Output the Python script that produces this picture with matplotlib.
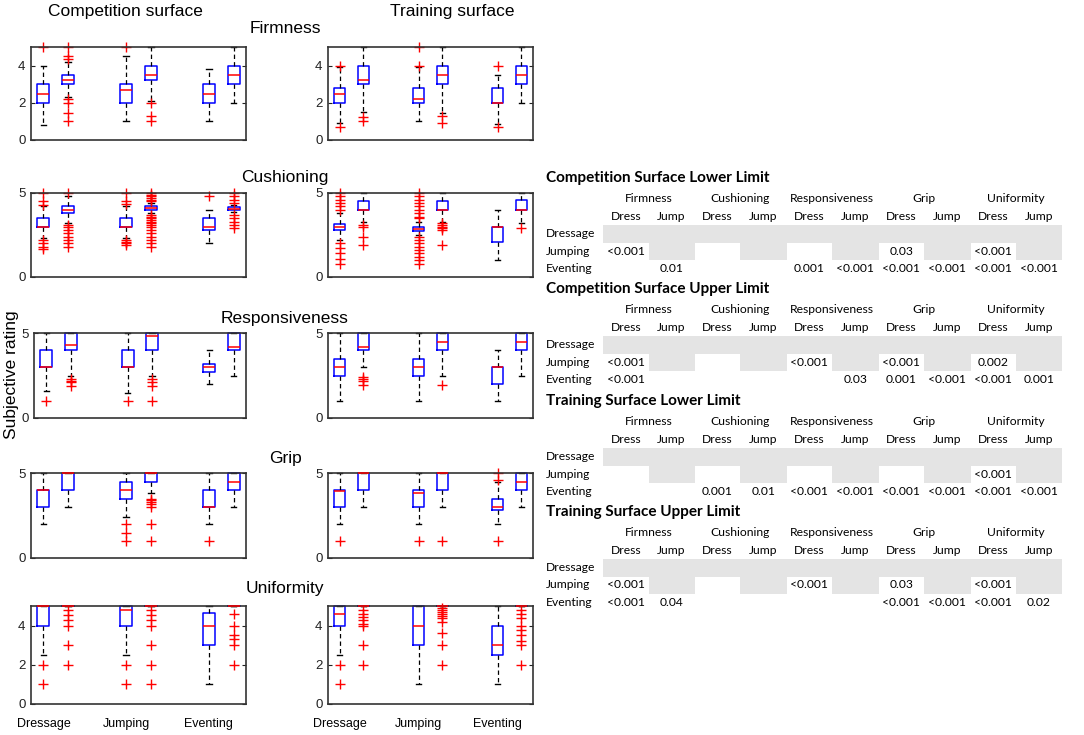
import numpy as np
import matplotlib
matplotlib.use('Agg')
import matplotlib.pyplot as plt
from matplotlib.patches import Rectangle

W, H = 1084, 735

# ── box data: (whisker low, q1, median, q3, whisker high, [outliers]) ───────
# order: Dressage lower, Dressage upper, Jumping lower, Jumping upper,
#        Eventing lower, Eventing upper
FIRMNESS_COMP = [
    (0.8, 2.0, 2.5, 3.0, 4.0, [5.0]),
    (2.3, 3.0, 3.2, 3.5, 4.2, [5.0, 4.5, 4.35, 2.2, 2.0, 1.45, 1.0]),
    (1.0, 2.0, 2.7, 3.0, 4.5, [5.0]),
    (2.1, 3.2, 3.5, 4.0, 5.0, [2.0, 1.3, 1.0]),
    (1.0, 2.0, 2.5, 3.0, 3.8, []),
    (2.0, 3.0, 3.5, 4.0, 5.0, []),
]
FIRMNESS_TRAIN = [
    (0.9, 2.0, 2.5, 2.8, 3.9, [4.0, 0.7]),
    (1.5, 3.0, 3.2, 4.0, 5.0, [1.25, 1.0]),
    (1.0, 2.0, 2.2, 2.8, 3.9, [5.0, 4.0]),
    (1.45, 3.0, 3.5, 4.0, 5.0, [1.3, 0.9]),
    (0.85, 2.0, 2.0, 2.8, 3.5, [4.0, 0.7]),
    (2.0, 3.0, 3.5, 4.0, 5.0, []),
]
CUSHIONING_COMP = [
    (2.3, 3.0, 3.0, 3.5, 4.2, [5.0, 4.5, 4.3, 2.2, 2.0, 1.8, 1.65]),
    (3.2, 3.8, 4.0, 4.2, 4.8, [5.0, 3.1, 3.0, 2.8, 2.6, 2.4, 2.2, 2.0, 1.8]),
    (2.3, 3.0, 3.0, 3.5, 4.2, [5.0, 4.5, 4.35, 2.2, 2.1, 2.0, 1.9]),
    (3.8, 4.0, 4.1, 4.25, 4.4, [5.0, 4.9, 4.8, 4.7, 4.6, 4.5, 3.7, 3.6, 3.5,
                                3.4, 3.3, 3.2, 3.1, 3.0, 2.8, 2.6, 2.4, 2.2,
                                2.0, 1.8]),
    (2.0, 2.8, 3.0, 3.5, 4.0, [4.8]),
    (3.85, 4.0, 4.05, 4.15, 4.3, [5.0, 4.8, 4.6, 4.4, 3.7, 3.5, 3.3, 3.1, 2.9]),
]
CUSHIONING_TRAIN = [
    (2.2, 2.8, 2.95, 3.15, 3.8, [5.0, 4.8, 4.6, 4.4, 4.2, 4.0, 2.0, 1.7, 1.4,
                                 1.1, 0.8]),
    (3.3, 4.0, 4.0, 4.5, 5.0, [3.1, 3.0, 2.4, 1.9]),
    (2.5, 2.75, 2.85, 2.95, 3.3, [5.0, 4.8, 4.6, 4.4, 4.2, 4.0, 3.8, 3.6, 3.5,
                                  2.4, 2.2, 2.0, 1.8, 1.6, 1.4, 1.2, 1.0, 0.8]),
    (3.3, 4.0, 4.0, 4.5, 5.0, [3.2, 3.1, 3.0, 2.9, 2.8, 1.9]),
    (1.0, 2.1, 3.0, 3.0, 4.0, []),
    (3.2, 4.0, 4.0, 4.6, 5.0, [2.9]),
]
RESPONSIVENESS_COMP = [
    (1.6, 3.0, 3.0, 4.0, 5.0, [1.0]),
    (2.5, 4.0, 4.3, 5.0, 5.0, [2.3, 2.2, 2.1, 1.9]),
    (1.45, 3.0, 3.0, 4.0, 5.0, [1.0]),
    (2.5, 4.0, 4.8, 5.0, 5.0, [2.3, 2.1, 1.9, 1.0]),
    (2.0, 2.7, 3.0, 3.2, 4.0, []),
    (2.5, 4.0, 4.2, 5.0, 5.0, []),
]
RESPONSIVENESS_TRAIN = [
    (1.0, 2.5, 3.0, 3.5, 5.0, []),
    (3.0, 4.0, 4.2, 5.0, 5.0, [2.4, 2.3, 2.2, 1.95]),
    (1.0, 2.5, 3.0, 3.5, 5.0, []),
    (2.5, 4.0, 4.5, 5.0, 5.0, [1.95]),
    (1.0, 2.0, 3.0, 3.0, 4.0, []),
    (2.5, 4.0, 4.5, 5.0, 5.0, []),
]
GRIP_COMP = [
    (2.0, 3.0, 4.0, 4.0, 5.0, []),
    (3.0, 4.0, 5.0, 5.0, 5.0, []),
    (2.4, 3.5, 4.0, 4.5, 5.0, [2.0, 1.5, 1.0]),
    (3.8, 4.5, 5.0, 5.0, 5.0, [3.5, 3.4, 3.3, 3.2, 3.0, 2.0, 1.0]),
    (2.0, 3.0, 3.0, 4.0, 5.0, [1.0]),
    (3.0, 4.0, 4.5, 5.0, 5.0, []),
]
GRIP_TRAIN = [
    (2.0, 3.0, 3.95, 4.0, 5.0, [1.0]),
    (3.0, 4.0, 5.0, 5.0, 5.0, []),
    (2.0, 3.0, 3.8, 4.0, 5.0, [1.0]),
    (3.0, 4.0, 5.0, 5.0, 5.0, [1.0]),
    (2.0, 2.8, 3.0, 3.5, 4.5, [5.0, 4.6, 1.0]),
    (3.0, 4.0, 4.5, 5.0, 5.0, []),
]
UNIFORMITY_COMP = [
    (2.5, 4.0, 5.0, 5.0, 5.0, [2.0, 1.0]),
    (5.0, 5.0, 5.0, 5.0, 5.0, [4.8, 4.55, 4.3, 4.0, 3.0, 2.0]),
    (2.5, 4.0, 4.8, 5.0, 5.0, [2.0, 1.0]),
    (5.0, 5.0, 5.0, 5.0, 5.0, [4.8, 4.55, 4.3, 4.0, 3.0, 2.0, 1.0]),
    (1.0, 3.0, 4.0, 4.65, 5.0, []),
    (5.0, 5.0, 5.0, 5.0, 5.0, [4.6, 4.0, 3.5, 3.3, 3.0, 2.0]),
]
UNIFORMITY_TRAIN = [
    (2.5, 4.0, 4.6, 5.0, 5.0, [2.0, 1.0]),
    (5.0, 5.0, 5.0, 5.0, 5.0, [4.8, 4.6, 4.45, 4.3, 4.1, 4.0, 3.0, 2.0]),
    (1.0, 3.0, 4.0, 5.0, 5.0, []),
    (5.0, 5.0, 5.0, 5.0, 5.0, [4.9, 4.8, 4.7, 4.6, 4.5, 4.4, 4.2, 3.6, 3.0,
                               2.0]),
    (1.0, 2.5, 3.0, 4.0, 5.0, []),
    (5.0, 5.0, 5.0, 5.0, 5.0, [4.8, 4.6, 4.4, 4.0, 3.8, 3.5, 3.2, 3.0, 2.0]),
]

PROPERTIES = ['Firmness', 'Cushioning', 'Responsiveness', 'Grip', 'Uniformity']
DISCIPLINES = ['Dressage', 'Jumping', 'Eventing']
PANELS = [(FIRMNESS_COMP, FIRMNESS_TRAIN),
          (CUSHIONING_COMP, CUSHIONING_TRAIN),
          (RESPONSIVENESS_COMP, RESPONSIVENESS_TRAIN),
          (GRIP_COMP, GRIP_TRAIN),
          (UNIFORMITY_COMP, UNIFORMITY_TRAIN)]
YTICKS = [[0, 2, 4], [0, 5], [0, 5], [0, 5], [0, 2, 4]]

# ── p-value tables ──────────────────────────────────────────────────────────
TABLE_TITLES = ['Competition Surface Lower Limit',
                'Competition Surface Upper Limit',
                'Training Surface Lower Limit',
                'Training Surface Upper Limit']
SUB_COLS = ['Dress', 'Jump']
CSLL_JUMPING = ['<0.001', '', '', '', '', '', '0.03', '', '<0.001', '']
CSLL_EVENTING = ['', '0.01', '', '', '0.001', '<0.001', '<0.001', '<0.001',
                 '<0.001', '<0.001']
CSUL_JUMPING = ['<0.001', '', '', '', '<0.001', '', '<0.001', '', '0.002', '']
CSUL_EVENTING = ['<0.001', '', '', '', '', '0.03', '0.001', '<0.001',
                 '<0.001', '0.001']
TSLL_JUMPING = ['', '', '', '', '', '', '', '', '<0.001', '']
TSLL_EVENTING = ['', '', '0.001', '0.01', '<0.001', '<0.001', '<0.001',
                 '<0.001', '<0.001', '<0.001']
TSUL_JUMPING = ['<0.001', '', '', '', '<0.001', '', '0.03', '', '<0.001', '']
TSUL_EVENTING = ['<0.001', '0.04', '', '', '', '', '<0.001', '<0.001',
                 '<0.001', '0.02']
TABLE_ROWS = [(CSLL_JUMPING, CSLL_EVENTING), (CSUL_JUMPING, CSUL_EVENTING),
              (TSLL_JUMPING, TSLL_EVENTING), (TSUL_JUMPING, TSUL_EVENTING)]
SHADE_DRESSAGE = [1, 1, 1, 1, 1, 1, 1, 1, 1, 1]
SHADE_JUMPING = [0, 1, 0, 1, 0, 1, 0, 1, 0, 1]

# ── layout (pixels) ─────────────────────────────────────────────────────────
POS = [1, 2, 4.33, 5.33, 7.67, 8.67]
ROW_TB = [(47, 140), (193, 277), (333, 418), (473, 558), (606, 704)]
COL_LR = [(31, 246), (328, 533)]
ROW_TITLE_Y = [28, 177, 318, 458, 588]
FONT = 'Liberation Sans'
TFONT = 'Lato'


def px_rect(l, t, r, b):
    return [l / W, 1 - b / H, (r - l) / W, (b - t) / H]


def draw_panel(ax, boxes, yticks, show_x):
    stats = [dict(whislo=b[0], q1=b[1], med=b[2], q3=b[3], whishi=b[4],
                  fliers=b[5]) for b in boxes]
    arts = ax.bxp(stats, positions=POS, widths=0.48, capwidths=0.22,
                  boxprops=dict(color='#0000ff', lw=1.1),
                  medianprops=dict(color='#ff0000', lw=1.1),
                  whiskerprops=dict(color='k', lw=0.9, ls=(0, (3.5, 2.5))),
                  capprops=dict(color='k', lw=1.0),
                  flierprops=dict(marker='+', markeredgecolor='#ff0000',
                                  markersize=7, mew=1.0, ls='none'))
    for key in arts:
        for a in arts[key]:
            a.set_clip_on(False)
    # medians on top of boxes
    for m in arts['medians']:
        m.set_zorder(4)
    ax.set_xlim(0.5, 9.17)
    ax.set_ylim(0, 5)
    ax.set_yticks(yticks)
    ax.tick_params(axis='y', direction='in', length=3, left=True, right=True,
                   labelsize=9.5, pad=4, colors='#222222')
    ax.tick_params(axis='x', length=0)
    if show_x:
        ax.set_xticks([POS[0], POS[2], POS[4]])
        ax.set_xticklabels(DISCIPLINES, fontsize=9, family=FONT)
        ax.tick_params(axis='x', pad=10)
    else:
        ax.set_xticks([])
    for lab in ax.get_yticklabels():
        lab.set_family(FONT)
    for sp in ax.spines.values():
        sp.set_color('#333333')
        sp.set_linewidth(1.2)


fig = plt.figure(figsize=(W / 100, H / 100), dpi=100)
overlay = fig.add_axes([0, 0, 1, 1])
overlay.set_xlim(0, W)
overlay.set_ylim(H, 0)
overlay.axis('off')

for r, (comp, train) in enumerate(PANELS):
    t, b = ROW_TB[r]
    for c, boxes in enumerate((comp, train)):
        l, rr = COL_LR[c]
        if r == 2 and c == 0:
            l = 34
        ax = fig.add_axes(px_rect(l, t, rr, b))
        draw_panel(ax, boxes, YTICKS[r], r == len(PANELS) - 1)
    overlay.text(285, ROW_TITLE_Y[r], PROPERTIES[r], ha='center', va='center',
                 fontsize=12.5, family=FONT)

overlay.text(125, 11, 'Competition surface', ha='center', va='center',
             fontsize=12.5, family=FONT)
overlay.text(452, 11, 'Training surface', ha='center', va='center',
             fontsize=12.5, family=FONT)
overlay.text(12, 375, 'Subjective rating', ha='center', va='center',
             rotation=90, fontsize=12.5, family=FONT)

# ── tables ──────────────────────────────────────────────────────────────────
TABLE_Y0 = [178, 289, 401, 512]
col_x = 625.7 + 45.9 * np.arange(10)
cell_w = 45.9
row_h = 17.5
for k, y0 in enumerate(TABLE_Y0):
    overlay.text(546, y0, TABLE_TITLES[k], ha='left', va='center',
                 fontsize=11, fontweight='bold', family=TFONT)
    for g, prop in enumerate(PROPERTIES):
        overlay.text((col_x[2 * g] + col_x[2 * g + 1]) / 2, y0 + 20, prop,
                     ha='center', va='center', fontsize=8.7, family=TFONT)
    for i, x in enumerate(col_x):
        overlay.text(x, y0 + 38, SUB_COLS[i % 2], ha='center', va='center',
                     fontsize=8.7, family=TFONT)
    row_y = [y0 + 55.5, y0 + 73, y0 + 90.5]
    for j, shade in enumerate((SHADE_DRESSAGE, SHADE_JUMPING)):
        for i, s in enumerate(shade):
            if s:
                overlay.add_patch(Rectangle((col_x[i] - cell_w / 2,
                                             row_y[j] - row_h / 2),
                                            cell_w + 0.6, row_h + 0.4,
                                            color='#e4e4e4', lw=0))
    for j, lab in enumerate(DISCIPLINES):
        overlay.text(546, row_y[j], lab, ha='left', va='center',
                     fontsize=8.7, family=TFONT)
    jump_vals, event_vals = TABLE_ROWS[k]
    for j, vals in ((1, jump_vals), (2, event_vals)):
        for i, v in enumerate(vals):
            if v:
                overlay.text(col_x[i], row_y[j], v, ha='center', va='center',
                             fontsize=8.7, family=TFONT)

fig.savefig('out.png', dpi=100)
